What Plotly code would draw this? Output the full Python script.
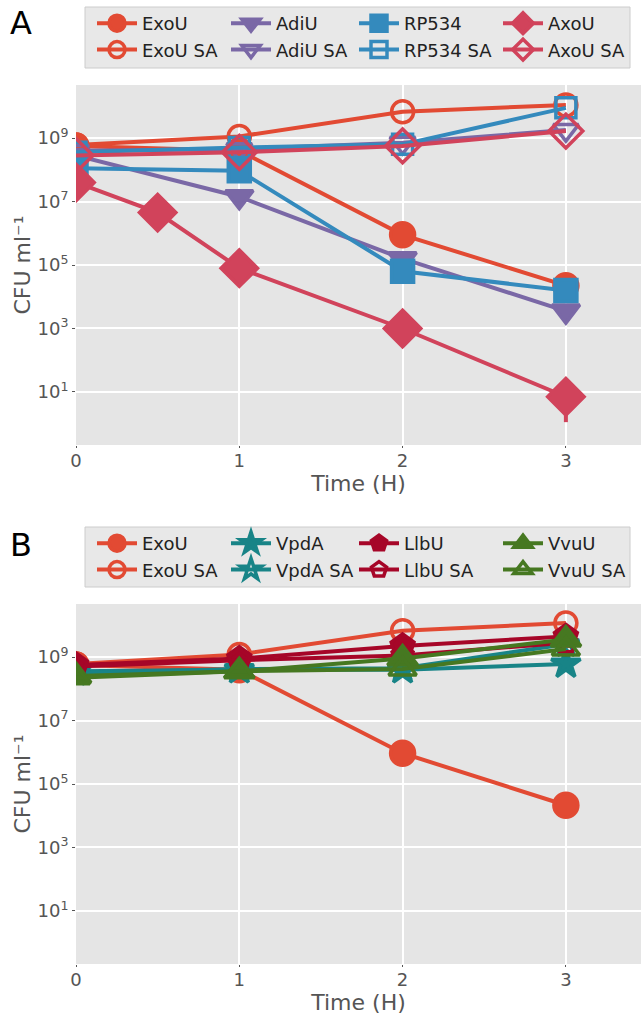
import plotly.graph_objects as go

# ---------------- data (log10 CFU/ml) ----------------
time = [0, 1, 2, 3]
time_axo = [0, 0.5, 1, 2, 3]

# Panel A
exou_a = [8.75, 8.6, 5.95, 4.35]
exou_sa_a = [8.78, 9.05, 9.83, 10.04]
adiu = [8.45, 7.15, 5.2, 3.55]
adiu_sa = [8.6, 8.65, 8.85, 9.25]
rp534 = [8.05, 7.97, 4.8, 4.2]
rp534_sa = [8.55, 8.7, 8.8, 9.95]
axou = [7.6, 6.65, 4.9, 3.0, 0.85]
axou_err_lo = [7.6, 6.65, 4.9, 3.0, 0.05]
axou_sa = [8.45, 8.55, 8.75, 9.22]

# Panel B
exou_b = [8.75, 8.6, 5.97, 4.33]
exou_sa_b = [8.78, 9.08, 9.83, 10.07]
vpda = [8.55, 8.6, 8.6, 8.78]
vpda_sa = [8.5, 8.62, 8.65, 9.4]
llbu = [8.75, 8.95, 9.35, 9.65]
llbu_sa = [8.7, 8.9, 9.05, 9.45]
vvuu = [8.4, 8.55, 8.95, 9.55]
vvuu_sa = [8.35, 8.55, 8.62, 9.25]

ytick_exp = [1, 3, 5, 7, 9]
xtick_vals = [0, 1, 2, 3]

# ---------------- style ----------------
RED = "#E24A33"
PURPLE = "#7A68A6"
BLUE = "#348ABD"
PINK = "#D1435B"
TEAL = "#188487"
DRED = "#A60628"
GREEN = "#467821"
FONT = "DejaVu Sans"

L, R, T, B = 76, 0, 85, 52
W, H = 641, 1016
PW = W - L - R
PH = H - T - B

def px_x(p):
    return (p - L) / PW

def px_y(p):
    return (H - B - p) / PH

fig = go.Figure()

def lin(v):
    return [10 ** x for x in v]

def add(x, y, name, color, symbol, size, legend, xa, ya, err=None):
    kw = {}
    if err is not None:
        minus = [10 ** a - 10 ** b for a, b in zip(y, err)]
        kw["error_y"] = dict(type="data", symmetric=False, array=[0] * len(y),
                             arrayminus=minus, color=color, thickness=4, width=0)
    fig.add_trace(go.Scatter(
        x=x, y=lin(y), name=name, mode="lines+markers",
        line=dict(color=color, width=4),
        marker=dict(symbol=symbol, size=size, color=color,
                    line=dict(color=color, width=3.5)),
        legend=legend, legendgroup=name + legend, xaxis=xa, yaxis=ya, **kw))

# Panel A traces (each column of the legend is its own small legend)
add(time, exou_a, "ExoU", RED, "circle", 24, "legend", "x", "y")
add(time, exou_sa_a, "ExoU SA", RED, "circle-open", 22, "legend", "x", "y")
add(time, adiu, "AdiU", PURPLE, "triangle-down", 24, "legend2", "x", "y")
add(time, adiu_sa, "AdiU SA", PURPLE, "triangle-down-open", 22, "legend2", "x", "y")
add(time, rp534, "RP534", BLUE, "square", 22, "legend3", "x", "y")
add(time, rp534_sa, "RP534 SA", BLUE, "square-open", 20, "legend3", "x", "y")
add(time_axo, axou, "AxoU", PINK, "diamond", 28, "legend4", "x", "y", err=axou_err_lo)
add(time, axou_sa, "AxoU SA", PINK, "diamond-open", 26, "legend4", "x", "y")

# Panel B traces
add(time, exou_b, "ExoU", RED, "circle", 24, "legend5", "x2", "y2")
add(time, exou_sa_b, "ExoU SA", RED, "circle-open", 22, "legend5", "x2", "y2")
add(time, vpda, "VpdA", TEAL, "star", 22, "legend6", "x2", "y2")
add(time, vpda_sa, "VpdA SA", TEAL, "star-open", 20, "legend6", "x2", "y2")
add(time, llbu, "LlbU", DRED, "pentagon", 24, "legend7", "x2", "y2")
add(time, llbu_sa, "LlbU SA", DRED, "pentagon-open", 22, "legend7", "x2", "y2")
add(time, vvuu, "VvuU", GREEN, "triangle-up", 26, "legend8", "x2", "y2")
add(time, vvuu_sa, "VvuU SA", GREEN, "triangle-up-open", 24, "legend8", "x2", "y2")

# ---------------- layout ----------------
dom_h = 360 / PH

xaxis_common = dict(
    range=[0, 3.46], tickvals=xtick_vals, ticks="outside", ticklen=2,
    tickcolor="#555555", tickfont=dict(family=FONT, size=18, color="#555555"),
    ticklabelstandoff=-3,
    showgrid=True, gridcolor="white", gridwidth=1.5, zeroline=False,
    showline=False, automargin=False,
    title=dict(text="Time (H)", standoff=4,
               font=dict(family=FONT, size=22, color="#555555")),
)
yaxis_common = dict(
    type="log", range=[-0.67, 10.67],
    tickvals=[10 ** e for e in ytick_exp],
    ticktext=[f"10<sup>{e}</sup>" for e in ytick_exp],
    ticks="outside", ticklen=3, tickcolor="#555555",
    tickfont=dict(family=FONT, size=18, color="#555555"),
    showgrid=True, gridcolor="white", gridwidth=1.5, zeroline=False,
    showline=False, automargin=False,
    title=dict(text="CFU ml⁻¹", standoff=0,
               font=dict(family=FONT, size=22, color="#555555")),
)

legend_common = dict(
    orientation="v", xanchor="left", yanchor="top",
    bgcolor="rgba(0,0,0,0)", borderwidth=0,
    font=dict(family=FONT, size=18, color="#222222"),
    itemwidth=40, tracegroupgap=2, traceorder="normal",
)

text_cols = [144, 278, 406, 550]
legends = {}
names = ["legend", "legend2", "legend3", "legend4",
         "legend5", "legend6", "legend7", "legend8"]
for i, nm in enumerate(names):
    col = i % 4
    top = 5 if i < 4 else 525
    legends[nm] = dict(x=px_x(text_cols[col] - 52), y=px_y(top), **legend_common)

box_style = dict(type="rect", xref="paper", yref="paper", layer="below",
                 fillcolor="#E8E8E8", line=dict(color="#CCCCCC", width=1))

fig.update_layout(
    width=W, height=H, template="none",
    margin=dict(l=L, r=R, t=T, b=B, pad=0, autoexpand=False),
    paper_bgcolor="white", plot_bgcolor="#E5E5E5",
    showlegend=True,
    xaxis=dict(domain=[0, 1], anchor="y", **xaxis_common),
    yaxis=dict(domain=[1 - dom_h, 1], anchor="x", **yaxis_common),
    xaxis2=dict(domain=[0, 1], anchor="y2", **xaxis_common),
    yaxis2=dict(domain=[0, dom_h], anchor="x2", **yaxis_common),
    shapes=[
        dict(x0=px_x(85), x1=px_x(630), y0=px_y(68), y1=px_y(7), **box_style),
        dict(x0=px_x(85), x1=px_x(630), y0=px_y(587), y1=px_y(527), **box_style),
    ],
    annotations=[
        dict(text="A", xref="paper", yref="paper", x=px_x(8),
             y=px_y(23), xanchor="left", yanchor="middle",
             showarrow=False, font=dict(family=FONT, size=32, color="black")),
        dict(text="B", xref="paper", yref="paper", x=px_x(8),
             y=px_y(545), xanchor="left", yanchor="middle",
             showarrow=False, font=dict(family=FONT, size=32, color="black")),
    ],
    **legends,
)

fig.write_html(
    "out.html",
    config={"displayModeBar": False},
    post_script="document.body.style.margin='0';document.body.style.overflow='hidden';",
)
